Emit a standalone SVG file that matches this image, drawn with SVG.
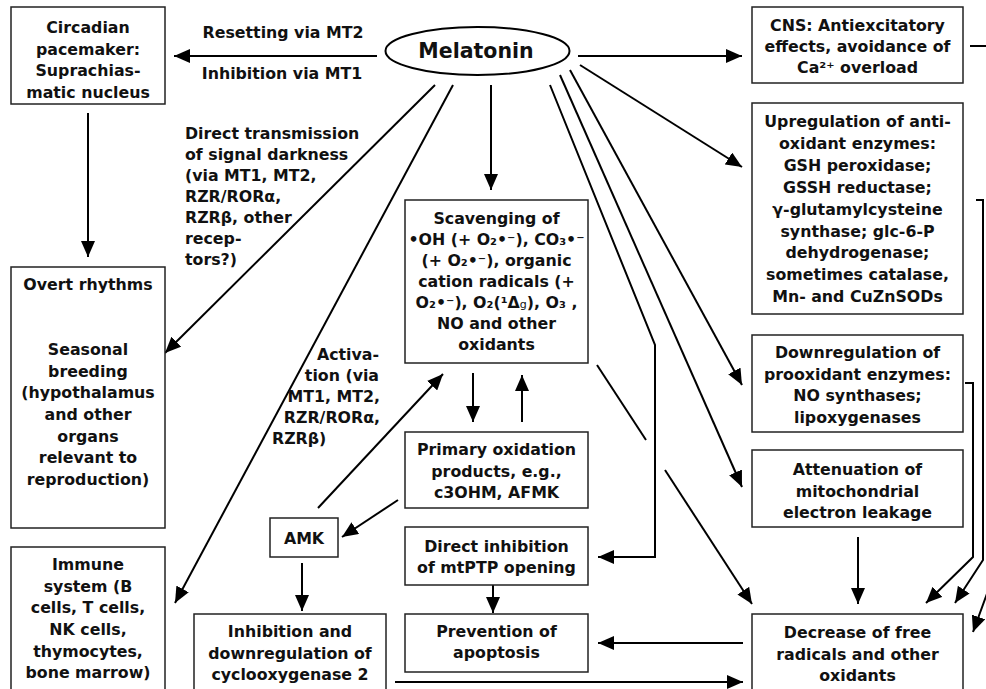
<svg xmlns="http://www.w3.org/2000/svg" width="986" height="689" viewBox="0 0 986 689">
<defs>
<style>
.box{fill:#fff;stroke:#222;stroke-width:1.5}
.t{font-family:"DejaVu Sans","Liberation Sans",sans-serif;font-weight:bold;font-size:15.8px;text-anchor:middle;fill:#111}
.l{text-anchor:start}
.e{text-anchor:end}
.c{fill:none;stroke:#000;stroke-width:2}
.a{marker-end:url(#ah)}
</style>
<marker id="ah" markerUnits="userSpaceOnUse" markerWidth="16" markerHeight="14" refX="16" refY="7" orient="auto"><path d="M0,0 L16,7 L0,14 z" fill="#000"/></marker>
</defs>
<rect width="986" height="689" fill="#fff"/>

<g id="connectors">
<path class="c a" d="M377,56 L174,56"/>
<path class="c a" d="M578,56 L742,56"/>
<path class="c a" d="M435,85 L165,353"/>
<path class="c a" d="M453,85 L175,603"/>
<path class="c a" d="M491,85 L491,190"/>
<path class="c a" d="M550,85 L655,345 L655,557 L598,557"/>
<path class="c a" d="M560,75 L742,487"/>
<path class="c a" d="M570,70 L742,385"/>
<path class="c a" d="M580,65 L742,167"/>
<path class="c a" d="M88,113 L88,257"/>
<path class="c a" d="M473,373 L473,422"/>
<path class="c a" d="M522,422 L522,375"/>
<path class="c a" d="M398,500 L342,537"/>
<path class="c a" d="M318,508 L443,374"/>
<path class="c a" d="M302,563 L302,611"/>
<path class="c" d="M597,365 L646,440"/>
<path class="c a" d="M665,470 L752,604"/>
<path class="c a" d="M493,585 L493,613"/>
<path class="c a" d="M743,643 L598,643"/>
<path class="c a" d="M395,682 L743,682"/>
<path class="c a" d="M858,537 L858,604"/>
<path class="c a" d="M976,200 H983 V560 L955,603"/>
<path class="c a" d="M965,383 H973 V557 L926,603"/>
<path class="c a" d="M970,46 H992 V580 L973,632"/>
<text class="t" x="283" y="38.3">Resetting via MT2</text>
<text class="t" x="282" y="79">Inhibition via MT1</text>
<text class="t l"><tspan x="185" y="139">Direct transmission</tspan><tspan x="185" y="160">of signal darkness</tspan><tspan x="185" y="180.5">(via MT1, MT2,</tspan><tspan x="185" y="201.5">RZR/RORα,</tspan><tspan x="185" y="222.5">RZRβ, other</tspan><tspan x="185" y="244">recep-</tspan><tspan x="185" y="265">tors?)</tspan></text>
<text class="t e"><tspan x="379" y="359.5">Activa-</tspan><tspan x="379" y="380.5">tion (via</tspan><tspan x="380" y="401.5">MT1, MT2,</tspan><tspan x="380" y="422.5">RZR/RORα,</tspan></text>
<text class="t l" x="272" y="443.5">RZRβ)</text>
</g>

<g id="melatonin">
<ellipse cx="477.5" cy="51" rx="92" ry="24" fill="#fff" stroke="#000" stroke-width="2"/>
<text class="t" x="476" y="57.5" style="font-size:20.5px">Melatonin</text>
</g>

<g id="circadian">
<rect class="box" x="11" y="7" width="154" height="97"/>
<text class="t"><tspan x="88" y="33">Circadian</tspan><tspan x="88" y="54.5">pacemaker:</tspan><tspan x="88" y="76">Suprachias-</tspan><tspan x="88" y="97.5">matic nucleus</tspan></text>
</g>

<g id="cns">
<rect class="box" x="752" y="7" width="211" height="76"/>
<text class="t"><tspan x="857.5" y="30.7">CNS: Antiexcitatory</tspan><tspan x="857.5" y="52">effects, avoidance of</tspan><tspan x="857.5" y="73">Ca²⁺ overload</tspan></text>
</g>

<g id="upregulation">
<rect class="box" x="752" y="103" width="211" height="211"/>
<text class="t"><tspan x="857.5" y="127">Upregulation of anti-</tspan><tspan x="857.5" y="149">oxidant enzymes:</tspan><tspan x="857.5" y="171">GSH peroxidase;</tspan><tspan x="857.5" y="193">GSSH reductase;</tspan><tspan x="857.5" y="215">γ-glutamylcysteine</tspan><tspan x="857.5" y="236.5">synthase; glc-6-P</tspan><tspan x="857.5" y="258">dehydrogenase;</tspan><tspan x="857.5" y="280">sometimes catalase,</tspan><tspan x="857.5" y="302">Mn- and CuZnSODs</tspan></text>
</g>

<g id="scavenging">
<rect class="box" x="405" y="200" width="183" height="163"/>
<text class="t"><tspan x="496.5" y="223.5">Scavenging of</tspan><tspan x="496.5" y="244.6">•OH (+ O₂•⁻), CO₃•⁻</tspan><tspan x="496.5" y="265.7">(+ O₂•⁻), organic</tspan><tspan x="496.5" y="286.8">cation radicals (+</tspan><tspan x="496.5" y="307.9">O₂•⁻), O₂(¹Δ<tspan font-size="11" font-weight="normal">g</tspan>), O₃ ,</tspan><tspan x="496.5" y="329">NO and other</tspan><tspan x="496.5" y="350.1">oxidants</tspan></text>
</g>

<g id="overt">
<rect class="box" x="11" y="267" width="154" height="261"/>
<text class="t"><tspan x="88" y="290">Overt rhythms</tspan><tspan x="88" y="355">Seasonal</tspan><tspan x="88" y="376.7">breeding</tspan><tspan x="88" y="398.3">(hypothalamus</tspan><tspan x="88" y="420">and other</tspan><tspan x="88" y="441.7">organs</tspan><tspan x="88" y="463.3">relevant to</tspan><tspan x="88" y="485">reproduction)</tspan></text>
</g>

<g id="downregulation">
<rect class="box" x="752" y="335" width="211" height="97"/>
<text class="t"><tspan x="857.5" y="358">Downregulation of</tspan><tspan x="857.5" y="379.5">prooxidant enzymes:</tspan><tspan x="857.5" y="401">NO synthases;</tspan><tspan x="857.5" y="422.5">lipoxygenases</tspan></text>
</g>

<g id="primary">
<rect class="box" x="405" y="432" width="183" height="76"/>
<text class="t"><tspan x="496.5" y="455">Primary oxidation</tspan><tspan x="496.5" y="476.7">products, e.g.,</tspan><tspan x="496.5" y="498.3">c3OHM, AFMK</tspan></text>
</g>

<g id="attenuation">
<rect class="box" x="752" y="450" width="211" height="77"/>
<text class="t"><tspan x="857.5" y="475">Attenuation of</tspan><tspan x="857.5" y="496.7">mitochondrial</tspan><tspan x="857.5" y="518.3">electron leakage</tspan></text>
</g>

<g id="amk">
<rect class="box" x="270" y="518" width="68" height="39"/>
<text class="t" x="304" y="544">AMK</text>
</g>

<g id="mtptp">
<rect class="box" x="405" y="527" width="183" height="58"/>
<text class="t"><tspan x="496.5" y="551.7">Direct inhibition</tspan><tspan x="496.5" y="573.3">of mtPTP opening</tspan></text>
</g>

<g id="immune">
<rect class="box" x="11" y="547" width="154" height="160"/>
<text class="t"><tspan x="88" y="570">Immune</tspan><tspan x="88" y="591.7">system (B</tspan><tspan x="88" y="613.3">cells, T cells,</tspan><tspan x="88" y="635">NK cells,</tspan><tspan x="88" y="656.7">thymocytes,</tspan><tspan x="88" y="678.3">bone marrow)</tspan></text>
</g>

<g id="cyclooxygenase">
<rect class="box" x="194" y="614" width="192" height="90"/>
<text class="t"><tspan x="290" y="637.3">Inhibition and</tspan><tspan x="290" y="659">downregulation of</tspan><tspan x="290" y="680">cyclooxygenase 2</tspan></text>
</g>

<g id="prevention">
<rect class="box" x="405" y="614" width="183" height="58"/>
<text class="t"><tspan x="496.5" y="636.7">Prevention of</tspan><tspan x="496.5" y="658.3">apoptosis</tspan></text>
</g>

<g id="decrease">
<rect class="box" x="752" y="614" width="211" height="90"/>
<text class="t"><tspan x="857.5" y="638">Decrease of free</tspan><tspan x="857.5" y="659.5">radicals and other</tspan><tspan x="857.5" y="681">oxidants</tspan></text>
</g>
</svg>
